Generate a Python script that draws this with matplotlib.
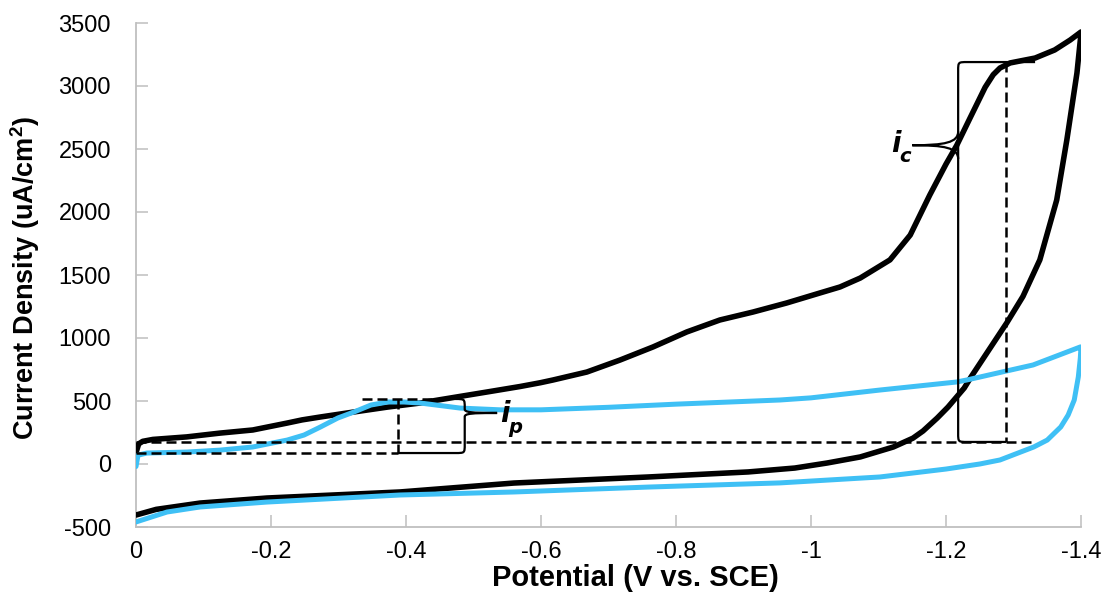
import matplotlib
matplotlib.use("Agg")
import matplotlib.pyplot as plt
from matplotlib.path import Path
from matplotlib.patches import PathPatch

plt.rcParams['font.family'] = ['Liberation Sans', 'DejaVu Sans']

# ---------------- data (potential in V vs. SCE, current density in uA/cm2) ----------------
black_fwd_v = [0.000, -0.004, -0.010, -0.025, -0.075, -0.124, -0.173, -0.224, -0.246, -0.273,
               -0.323, -0.373, -0.421, -0.450, -0.524, -0.569, -0.599, -0.618, -0.668, -0.717,
               -0.766, -0.816, -0.865, -0.914, -0.964, -1.013, -1.043, -1.073, -1.117, -1.147,
               -1.176, -1.200, -1.216, -1.236, -1.258, -1.270, -1.280, -1.295, -1.332, -1.361,
               -1.384, -1.400]
black_fwd_i = [90, 160, 180, 195, 215, 245, 270, 325, 350, 373,
               413, 452, 484, 510, 575, 615, 645, 667, 730, 825,
               929, 1048, 1143, 1206, 1278, 1357, 1405, 1476, 1620, 1817,
               2135, 2380, 2530, 2750, 2990, 3090, 3143, 3183, 3222, 3286,
               3365, 3429]

black_rev_v = [-1.400, -1.399, -1.394, -1.379, -1.364, -1.339, -1.314, -1.290, -1.237, -1.227,
               -1.203, -1.187, -1.166, -1.151, -1.122, -1.073, -1.024, -0.976, -0.907, -0.759,
               -0.560, -0.391, -0.194, -0.095, -0.030, 0.000]
black_rev_i = [3429, 3365, 3103, 2571, 2095, 1620, 1330, 1120, 690, 603,
               452, 365, 262, 205, 135, 56, 8, -32, -63, -103,
               -151, -222, -270, -310, -360, -405]

blue_fwd_v = [0.000, -0.003, -0.016, -0.076, -0.124, -0.173, -0.224, -0.249, -0.273, -0.299,
              -0.323, -0.348, -0.373, -0.397, -0.421, -0.480, -0.539, -0.600, -0.700, -0.800,
              -0.954, -1.000, -1.102, -1.216, -1.231, -1.329, -1.399, -1.400]
blue_fwd_i = [-20, 70, 87, 95, 110, 135, 190, 230, 293, 365,
              413, 468, 492, 492, 484, 444, 430, 430, 450, 475,
              508, 525, 587, 651, 667, 786, 929, 929]

blue_rev_v = [-1.400, -1.399, -1.396, -1.390, -1.381, -1.370, -1.350, -1.330, -1.280, -1.250,
              -1.200, -1.102, -0.954, -0.759, -0.560, -0.391, -0.194, -0.095, -0.046, 0.000]
blue_rev_i = [929, 841, 690, 508, 389, 294, 190, 135, 32, 0,
              -40, -103, -150, -183, -222, -246, -302, -341, -381, -460]

x_ticks = [0, -0.2, -0.4, -0.6, -0.8, -1.0, -1.2, -1.4]
x_tick_labels = ['0', '-0.2', '-0.4', '-0.6', '-0.8', '-1', '-1.2', '-1.4']
y_ticks = [-500, 0, 500, 1000, 1500, 2000, 2500, 3000, 3500]
y_tick_labels = ['-500', '0', '500', '1000', '1500', '2000', '2500', '3000', '3500']

# annotation geometry (data units)
ip_top, ip_bot, ip_vx, ip_brace_x, ip_tip = 516, 87, -0.388, -0.487, (-0.535, 405)
ic_top, ic_bot, ic_brace_x, ic_dash_x, ic_tip = 3190, 175, -1.218, -1.289, (-1.150, 2530)

BLACK = '#000000'
BLUE = '#3FC0F5'
GRAY = '#BFBFBF'

fig = plt.figure(figsize=(11.05, 5.96), dpi=100)
ax = fig.add_axes([136 / 1105, 1 - 527 / 596, (1081 - 136) / 1105, (527 - 23) / 596])

ax.plot(black_fwd_v + black_rev_v, black_fwd_i + black_rev_i, color=BLACK, lw=4.0,
        solid_joinstyle='round', solid_capstyle='round', zorder=3)
ax.plot(blue_fwd_v + blue_rev_v, blue_fwd_i + blue_rev_i, color=BLUE, lw=3.6,
        solid_joinstyle='round', solid_capstyle='round', zorder=4)

ax.set_xlim(0, -1.4)
ax.set_ylim(-500, 3500)
ax.set_xticks(x_ticks)
ax.set_xticklabels(x_tick_labels)
ax.set_yticks(y_ticks)
ax.set_yticklabels(y_tick_labels)
ax.tick_params(direction='in', length=8.5, width=1.1, color=GRAY, labelsize=17)
ax.tick_params(axis='x', pad=10)
ax.tick_params(axis='y', pad=18)
for s in ['top', 'right']:
    ax.spines[s].set_visible(False)
for s in ['left', 'bottom']:
    ax.spines[s].set_color(GRAY)
    ax.spines[s].set_linewidth(1.3)

dash = dict(color='black', lw=1.8, ls=(0, (4, 2)), zorder=5)
solid = dict(color='black', lw=1.6, zorder=5)

# ---- i_p annotation ----
ax.plot([-0.335, -0.468], [ip_top, ip_top], **dash)
ax.plot([ip_vx, ip_vx], [ip_top, ip_bot], **dash)
ax.plot([0, ip_vx], [ip_bot, ip_bot], **dash)
dx, dy = 0.014, 70
verts = [(ip_vx, ip_bot), (ip_brace_x + dx, ip_bot),
         (ip_brace_x, ip_bot), (ip_brace_x, ip_bot), (ip_brace_x, ip_bot + dy),
         (ip_brace_x, ip_tip[1] - 30),
         (ip_brace_x, ip_tip[1] - 5), (ip_brace_x - 0.01, ip_tip[1]), ip_tip,
         (ip_brace_x - 0.01, ip_tip[1]), (ip_brace_x, ip_tip[1] + 5), (ip_brace_x, ip_tip[1] + 30),
         (ip_brace_x, ip_top - dy),
         (ip_brace_x, ip_top), (ip_brace_x, ip_top), (ip_brace_x + dx, ip_top)]
codes = [Path.MOVETO, Path.LINETO,
         Path.CURVE4, Path.CURVE4, Path.CURVE4,
         Path.LINETO,
         Path.CURVE4, Path.CURVE4, Path.CURVE4,
         Path.CURVE4, Path.CURVE4, Path.CURVE4,
         Path.LINETO,
         Path.CURVE4, Path.CURVE4, Path.CURVE4]
ax.add_patch(PathPatch(Path(verts, codes), fill=False, **solid))
ax.text(-0.540, 400, 'i', fontsize=20, fontweight='bold', style='italic',
        ha='left', va='center', family='DejaVu Sans', zorder=6)
ax.text(-0.551, 290, 'p', fontsize=14, fontweight='bold', style='italic',
        ha='left', va='center', family='DejaVu Sans', zorder=6)

# ---- i_c annotation ----
ax.plot([0, -1.329], [ic_bot, ic_bot], **dash)
ax.plot([ic_dash_x, ic_dash_x], [ic_top, ic_bot], **dash)
verts = [(-1.332, ic_top), (ic_brace_x - dx, ic_top),
         (ic_brace_x, ic_top), (ic_brace_x, ic_top), (ic_brace_x, ic_top - dy),
         (ic_brace_x, ic_bot + dy),
         (ic_brace_x, ic_bot), (ic_brace_x, ic_bot), (ic_brace_x - dx, ic_bot),
         (ic_dash_x, ic_bot)]
codes = [Path.MOVETO, Path.LINETO,
         Path.CURVE4, Path.CURVE4, Path.CURVE4,
         Path.LINETO,
         Path.CURVE4, Path.CURVE4, Path.CURVE4,
         Path.LINETO]
ax.add_patch(PathPatch(Path(verts, codes), fill=False, **solid))
verts = [(ic_brace_x, ic_tip[1] + 110), (ic_brace_x, ic_tip[1] + 20), (ic_brace_x + 0.02, ic_tip[1]), ic_tip,
         (ic_brace_x + 0.02, ic_tip[1]), (ic_brace_x, ic_tip[1] - 20), (ic_brace_x, ic_tip[1] - 110)]
codes = [Path.MOVETO, Path.CURVE4, Path.CURVE4, Path.CURVE4, Path.CURVE4, Path.CURVE4, Path.CURVE4]
ax.add_patch(PathPatch(Path(verts, codes), fill=False, **solid))
ax.text(-1.118, 2540, 'i', fontsize=20, fontweight='bold', style='italic',
        ha='left', va='center', family='DejaVu Sans', zorder=6)
ax.text(-1.131, 2440, 'c', fontsize=14, fontweight='bold', style='italic',
        ha='left', va='center', family='DejaVu Sans', zorder=6)

fig.text(635 / 1105, 1 - 578 / 596, 'Potential (V vs. SCE)', fontsize=21, fontweight='bold',
         ha='center', va='center')
fig.text(25 / 1105, 1 - 278 / 596, 'Current Density (uA/cm$\\mathregular{^2}$)', fontsize=19.5,
         fontweight='bold', ha='center', va='center', rotation=90)

fig.savefig('out.png', dpi=100)
